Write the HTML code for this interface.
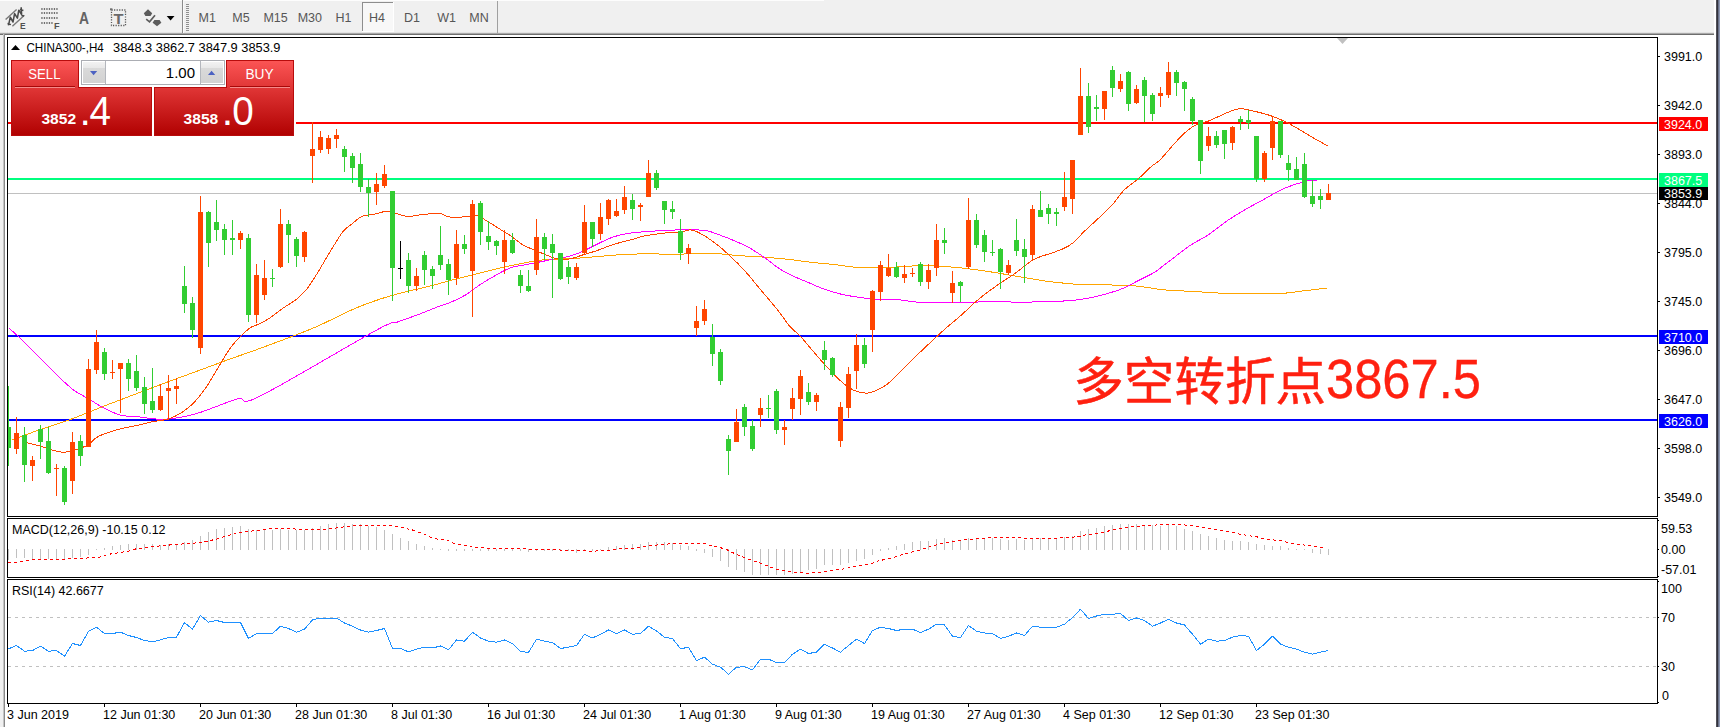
<!DOCTYPE html>
<html><head><meta charset="utf-8"><title>CHINA300-,H4</title>
<style>
html,body{margin:0;padding:0;background:#fff;}
body{width:1720px;height:727px;overflow:hidden;position:relative;font-family:"Liberation Sans",sans-serif;}
svg{position:absolute;left:0;top:0;display:block}
svg text{font-family:"Liberation Sans",sans-serif;font-size:12.5px;fill:#000}
.cj{font-family:"Liberation Sans","Noto Sans CJK SC",sans-serif}
.crisp{shape-rendering:crispEdges}
</style></head><body>
<svg width="1720" height="727" viewBox="0 0 1720 727">
<defs>
<linearGradient id="gr" gradientUnits="userSpaceOnUse" x1="0" y1="61" x2="0" y2="136"><stop offset="0" stop-color="#fb5454"/><stop offset="1" stop-color="#b00000"/></linearGradient>
<linearGradient id="gb" x1="0" y1="0" x2="0" y2="1"><stop offset="0" stop-color="#f2f2f2"/><stop offset="0.3" stop-color="#e8e8e8"/><stop offset="0.3" stop-color="#dadada"/><stop offset="1" stop-color="#d2d2d2"/></linearGradient>
<clipPath id="cm"><rect x="8" y="38" width="1649" height="478"/></clipPath>
</defs>
<rect width="1720" height="727" fill="#fff"/>
<g class="crisp">
<rect x="0" y="0" width="1714" height="33" fill="#f0f0f0"/>
<rect x="0" y="32" width="1714" height="1" fill="#e3e3e3"/>
<rect x="0" y="0" width="824" height="1" fill="#fdfdfd"/>
<rect x="0" y="33" width="1714" height="1" fill="#a8a8a8"/>
<rect x="0" y="34" width="1714" height="1" fill="#6e6e6e"/>
<rect x="0" y="35" width="3" height="692" fill="#f0f0f0"/>
<rect x="3" y="34" width="1" height="693" fill="#c4c4c4"/>
<rect x="4" y="34" width="1" height="693" fill="#8a8a8a"/>
<rect x="1716" y="0" width="1" height="727" fill="#50505a"/>
<rect x="1717" y="0" width="1" height="727" fill="#34343c"/>
<rect x="1718" y="0" width="1" height="727" fill="#6a728a"/>
<rect x="1719" y="0" width="1" height="727" fill="#8e98b2"/>
</g>
<rect class="crisp" x="7.5" y="37.5" width="1650" height="479" fill="none" stroke="#000" stroke-width="1"/>
<rect class="crisp" x="7.5" y="518.5" width="1650" height="59" fill="none" stroke="#000" stroke-width="1"/>
<rect class="crisp" x="7.5" y="579.5" width="1650" height="124" fill="none" stroke="#000" stroke-width="1"/>
<g clip-path="url(#cm)">
<g class="crisp">
<rect x="8" y="193" width="1649" height="1" fill="#c0c0c0"/>
<rect x="8" y="122" width="1649" height="2" fill="#ff0000"/>
<rect x="8" y="178" width="1649" height="2" fill="#00ff7f"/>
<rect x="8" y="335" width="1649" height="2" fill="#0000ff"/>
<rect x="8" y="419" width="1649" height="2" fill="#0000ff"/>
</g>
<path class="crisp" d="M12.1,439.8 C16.8,438.1 30.2,433.1 40.3,429.5 C50.3,426.0 61.9,422.6 72.6,418.6 C83.3,414.7 93.8,410.1 104.4,405.9 C115.0,401.8 125.6,397.9 136.2,393.8 C146.8,389.8 157.7,385.7 168.3,381.7 C178.9,377.8 189.5,374.0 199.8,370.2 C210.0,366.4 220.0,362.7 230.0,359.0 C240.1,355.4 246.9,353.3 260.0,348.4 C273.1,343.6 296.7,334.8 308.6,330.0 C320.5,325.3 323.5,323.4 331.3,319.7 C339.2,316.1 347.5,311.7 355.5,308.2 C363.6,304.8 371.7,301.8 379.8,299.2 C387.8,296.5 396.9,294.1 404.0,292.2 C411.0,290.3 416.1,289.4 422.1,288.0 C428.1,286.5 435.3,284.7 440.0,283.4 C444.7,282.2 443.5,282.2 450.3,280.4 C457.0,278.7 470.4,275.3 480.5,272.9 C490.6,270.4 500.7,267.7 510.8,265.6 C520.9,263.5 531.0,261.3 541.1,260.1 C551.2,259.0 561.2,259.3 571.3,258.6 C581.4,258.0 591.5,257.0 601.6,256.2 C611.7,255.5 618.8,254.4 631.9,254.1 C644.9,253.7 670.3,254.2 680.0,254.1 C689.7,254.0 684.5,253.6 690.3,253.5 C696.0,253.4 706.4,253.1 714.5,253.5 C722.6,253.8 730.6,255.0 738.7,255.6 C746.8,256.2 754.8,256.5 762.9,257.1 C771.0,257.7 779.0,258.4 787.1,259.2 C795.2,260.1 803.3,261.4 811.3,262.3 C819.4,263.2 827.5,263.8 835.5,264.7 C843.6,265.6 851.7,267.2 859.8,267.7 C867.8,268.2 874.1,268.1 884.0,267.7 C893.9,267.4 910.9,265.9 919.1,265.6 C927.3,265.3 928.4,265.7 933.3,265.9 C938.2,266.1 942.4,266.3 948.4,266.8 C954.5,267.3 962.6,268.0 969.6,268.9 C976.7,269.8 984.2,270.9 990.8,271.9 C997.4,272.9 1002.9,273.9 1009.0,275.0 C1015.0,276.0 1021.1,277.0 1027.1,278.0 C1033.2,279.0 1039.2,280.1 1045.3,281.0 C1051.3,281.9 1057.4,282.5 1063.4,283.1 C1069.5,283.7 1074.5,284.3 1081.6,284.6 C1088.7,284.9 1097.7,284.8 1105.8,284.9 C1113.9,285.1 1122.9,285.1 1130.0,285.5 C1137.1,286.0 1143.3,286.9 1148.3,287.5 C1153.3,288.2 1155.9,289.0 1160.0,289.5 C1164.0,290.0 1166.0,290.0 1172.6,290.4 C1179.3,290.8 1190.8,291.4 1199.9,291.9 C1209.0,292.4 1217.5,293.2 1227.1,293.4 C1236.7,293.7 1248.3,293.4 1257.4,293.4 C1266.5,293.4 1274.5,293.8 1281.6,293.4 C1288.7,293.1 1294.2,292.0 1299.8,291.3 C1305.3,290.7 1310.3,290.1 1314.9,289.5 C1319.5,288.9 1325.5,288.2 1327.6,288.0" fill="none" stroke="#ffa500" stroke-width="1" stroke-linejoin="round"/>
<path class="crisp" d="M8.5,327.8 C10.1,329.3 13.5,331.9 18.2,336.3 C22.8,340.8 30.3,348.4 36.3,354.5 C42.4,360.5 48.4,366.8 54.5,372.6 C60.5,378.4 67.1,385.0 72.6,389.3 C78.2,393.6 82.5,395.2 87.8,398.4 C93.1,401.5 98.9,405.5 104.4,408.4 C110.0,411.2 115.8,414.0 121.1,415.3 C126.4,416.7 130.6,415.9 136.2,416.5 C141.7,417.1 149.0,418.5 154.4,418.9 C159.7,419.4 163.2,419.4 168.3,418.9 C173.3,418.5 179.4,417.6 184.6,416.5 C189.9,415.5 194.2,414.4 199.8,412.6 C205.3,410.8 211.4,408.3 217.9,405.9 C224.5,403.6 232.1,400.0 239.1,398.4 C246.1,396.8 237.1,407.6 260.0,396.2 C282.9,384.9 353.7,342.4 376.7,330.0 C399.7,317.6 390.9,324.5 397.9,321.9 C405.0,319.2 412.5,316.8 419.1,314.3 C425.7,311.8 432.4,308.9 437.6,306.9 C442.8,304.9 445.6,304.5 450.3,302.5 C454.9,300.5 460.4,298.0 465.4,295.0 C470.4,291.9 475.5,287.6 480.5,284.4 C485.6,281.1 490.6,278.1 495.7,275.3 C500.7,272.5 505.8,269.5 510.8,267.7 C515.8,265.9 520.9,265.7 525.9,264.7 C531.0,263.7 536.5,262.6 541.1,261.7 C545.6,260.8 549.1,260.0 553.2,259.2 C557.2,258.5 561.2,258.1 565.3,257.1 C569.3,256.2 573.3,255.0 577.4,253.5 C581.4,252.0 585.5,250.0 589.5,248.0 C593.5,246.1 597.6,243.9 601.6,242.0 C605.6,240.1 609.7,238.2 613.7,236.8 C617.7,235.5 621.8,234.6 625.8,233.8 C629.8,233.1 633.9,232.7 637.9,232.3 C642.0,231.9 646.0,231.7 650.0,231.4 C654.1,231.1 656.8,230.7 662.1,230.5 C667.5,230.2 674.9,229.9 682.1,229.9 C689.3,229.9 699.0,229.6 705.4,230.5 C711.8,231.4 715.0,233.3 720.5,235.3 C726.1,237.3 733.6,240.4 738.7,242.6 C743.7,244.8 746.3,246.0 750.8,248.6 C755.3,251.3 760.9,255.1 765.9,258.6 C771.0,262.2 776.0,266.7 781.1,269.8 C786.1,273.0 791.2,275.1 796.2,277.4 C801.2,279.7 806.8,281.8 811.3,283.8 C815.9,285.7 818.4,287.1 823.4,288.9 C828.5,290.7 835.5,292.9 841.6,294.3 C847.7,295.8 853.7,296.5 859.8,297.4 C865.8,298.2 871.9,299.1 877.9,299.5 C884.0,299.8 889.2,299.0 896.1,299.5 C902.9,300.0 912.4,301.8 919.1,302.4 C925.8,302.9 929.4,302.7 936.3,302.8 C943.2,302.9 951.5,303.0 960.5,302.8 C969.6,302.6 980.7,301.7 990.8,301.6 C1000.9,301.5 1012.0,302.2 1021.1,302.2 C1030.1,302.2 1037.2,301.8 1045.3,301.6 C1053.3,301.3 1062.4,301.2 1069.5,300.7 C1076.6,300.1 1081.6,299.4 1087.7,298.3 C1093.7,297.1 1099.8,295.7 1105.8,294.0 C1111.9,292.3 1118.7,290.2 1124.0,288.0 C1129.3,285.8 1132.9,283.3 1137.7,280.9 C1142.5,278.4 1149.1,275.4 1152.8,273.3 C1156.6,271.2 1156.7,270.7 1160.0,268.3 C1163.3,265.8 1167.5,262.5 1172.6,258.6 C1177.8,254.8 1184.7,249.0 1190.8,245.0 C1196.9,241.0 1202.9,238.5 1209.0,234.4 C1215.0,230.4 1221.1,224.9 1227.1,220.8 C1233.2,216.7 1239.2,213.1 1245.3,209.6 C1251.3,206.1 1257.4,202.9 1263.4,199.6 C1269.5,196.3 1276.0,192.2 1281.6,189.6 C1287.1,187.0 1292.2,185.4 1296.7,183.9 C1301.3,182.4 1305.5,181.2 1308.8,180.5 C1312.2,179.9 1315.4,180.2 1316.7,180.1" fill="none" stroke="#ff00ff" stroke-width="1" stroke-linejoin="round"/>
<path class="crisp" d="M27.2,442.9 C29.3,443.4 34.8,444.6 39.3,445.9 C43.9,447.2 50.3,449.7 54.5,450.7 C58.6,451.8 60.6,452.4 64.2,452.2 C67.7,452.1 71.6,451.1 75.7,449.8 C79.7,448.6 84.9,446.7 88.4,444.7 C91.8,442.7 93.6,439.5 96.2,437.7 C98.9,435.9 100.3,435.3 104.4,433.8 C108.6,432.3 115.8,430.0 121.1,428.6 C126.4,427.3 131.2,426.7 136.2,425.6 C141.2,424.5 146.0,423.1 151.3,422.0 C156.7,420.9 163.2,420.5 168.3,418.9 C173.3,417.4 177.4,415.3 181.6,412.6 C185.8,409.9 189.7,407.0 193.7,402.9 C197.7,398.8 201.8,393.6 205.8,387.8 C209.8,382.0 213.9,374.7 217.9,368.1 C222.0,361.5 226.0,354.0 230.0,348.4 C234.1,342.9 238.6,338.3 242.1,334.8 C245.7,331.3 248.2,329.1 251.2,327.2 C254.2,325.4 256.7,325.3 260.0,323.6 C263.3,322.0 267.0,319.9 270.8,317.3 C274.6,314.8 278.6,311.3 282.9,308.2 C287.2,305.2 292.5,302.4 296.5,299.2 C300.6,295.9 303.8,292.6 307.1,288.6 C310.4,284.5 313.2,279.7 316.2,275.0 C319.2,270.2 322.3,264.9 325.3,259.8 C328.3,254.8 331.3,249.5 334.4,244.7 C337.4,239.9 340.4,234.6 343.4,231.1 C346.5,227.5 349.5,225.9 352.5,223.5 C355.5,221.1 358.1,218.1 361.6,216.5 C365.1,215.0 369.7,215.3 373.7,214.4 C377.7,213.6 382.3,211.6 385.8,211.4 C389.3,211.1 391.4,212.0 394.9,212.9 C398.4,213.8 403.0,216.2 407.0,216.5 C411.0,216.9 413.8,215.6 419.1,215.0 C424.5,214.5 434.1,213.1 439.1,213.4 C444.0,213.7 444.4,216.3 448.8,216.9 C453.1,217.4 460.6,217.1 465.4,216.9 C470.2,216.7 474.0,215.0 477.5,215.7 C481.0,216.3 483.1,218.7 486.6,220.8 C490.1,222.9 494.7,225.8 498.7,228.4 C502.7,230.9 506.8,233.2 510.8,235.9 C514.8,238.7 519.1,242.7 522.9,245.0 C526.7,247.3 530.0,248.0 533.5,249.6 C537.0,251.1 540.8,252.7 544.1,254.1 C547.4,255.5 550.1,256.8 553.2,257.7 C556.2,258.6 559.2,259.4 562.3,259.5 C565.3,259.7 567.8,259.4 571.3,258.6 C574.9,257.8 579.4,256.0 583.4,254.7 C587.5,253.4 591.5,252.4 595.5,251.1 C599.6,249.7 603.6,247.9 607.7,246.5 C611.7,245.1 615.7,243.8 619.8,242.6 C623.8,241.4 627.8,240.7 631.9,239.6 C635.9,238.5 639.4,236.9 644.0,235.9 C648.5,235.0 654.6,234.4 659.1,233.8 C663.6,233.2 667.7,232.6 671.2,232.3 C674.7,232.0 676.8,232.7 680.0,232.3 C683.2,231.9 687.0,229.8 690.3,229.9 C693.5,230.0 695.3,230.8 699.3,232.9 C703.4,235.0 709.4,238.8 714.5,242.6 C719.5,246.4 724.6,250.9 729.6,255.6 C734.7,260.3 739.7,265.2 744.7,270.7 C749.8,276.3 754.3,282.3 759.9,288.9 C765.4,295.5 773.0,304.2 778.0,310.5 C783.1,316.8 786.4,322.4 790.1,326.7 C793.9,331.1 796.2,331.7 800.7,336.7 C805.3,341.6 812.1,350.2 817.4,356.3 C822.7,362.3 828.0,368.2 832.5,372.9 C837.1,377.6 841.1,381.5 844.6,384.4 C848.2,387.3 850.2,388.7 853.7,390.2 C857.2,391.6 862.3,393.0 865.8,393.2 C869.3,393.3 871.4,392.5 874.9,391.1 C878.4,389.6 883.0,387.4 887.0,384.4 C891.0,381.4 895.1,376.8 899.1,372.9 C903.1,369.0 907.7,364.2 911.2,360.8 C914.7,357.4 914.5,357.5 920.0,352.3 C925.4,347.2 937.1,336.1 943.9,330.0 C950.6,324.0 954.7,321.0 960.5,315.8 C966.3,310.7 972.6,304.2 978.7,299.2 C984.7,294.1 990.8,289.8 996.9,285.5 C1002.9,281.3 1009.0,277.7 1015.0,273.4 C1021.1,269.2 1027.1,263.2 1033.2,259.8 C1039.2,256.4 1046.3,255.0 1051.3,253.2 C1056.4,251.3 1059.9,250.3 1063.4,248.6 C1067.0,247.0 1069.0,246.1 1072.5,243.2 C1076.0,240.2 1080.6,234.9 1084.6,231.1 C1088.7,227.2 1092.2,224.2 1096.7,219.9 C1101.3,215.6 1107.3,210.3 1111.9,205.3 C1116.4,200.4 1119.4,194.7 1124.0,190.2 C1128.5,185.7 1134.6,182.0 1139.1,178.1 C1143.6,174.2 1147.7,169.6 1151.2,166.6 C1154.7,163.6 1156.0,163.9 1160.0,159.9 C1164.0,156.0 1170.5,147.8 1175.0,142.9 C1179.5,138.0 1183.6,133.8 1187.1,130.8 C1190.6,127.8 1192.7,126.4 1196.2,124.7 C1199.7,123.1 1204.3,122.6 1208.3,121.1 C1212.3,119.6 1216.4,117.4 1220.4,115.7 C1224.4,113.9 1229.0,111.7 1232.5,110.5 C1236.0,109.4 1238.1,108.6 1241.6,108.7 C1245.1,108.8 1249.2,110.1 1253.7,111.1 C1258.2,112.2 1263.8,113.4 1268.8,115.1 C1273.9,116.7 1278.9,118.7 1284.0,121.1 C1289.0,123.5 1294.1,126.4 1299.1,129.3 C1304.1,132.2 1309.4,135.6 1314.2,138.4 C1319.0,141.1 1325.6,144.7 1327.9,145.9" fill="none" stroke="#ff4500" stroke-width="1" stroke-linejoin="round"/>
<g class="crisp">
<rect x="8" y="386" width="1" height="80" fill="#32cd32"/><rect x="6" y="427" width="5" height="21" fill="#32cd32"/>
<rect x="16" y="417" width="1" height="37" fill="#ff4500"/><rect x="14" y="433" width="5" height="16" fill="#ff4500"/>
<rect x="24" y="427" width="1" height="55" fill="#32cd32"/><rect x="22" y="435" width="5" height="30" fill="#32cd32"/>
<rect x="32" y="456" width="1" height="25" fill="#ff4500"/><rect x="30" y="460" width="5" height="6" fill="#ff4500"/>
<rect x="40" y="425" width="1" height="34" fill="#32cd32"/><rect x="38" y="429" width="5" height="13" fill="#32cd32"/>
<rect x="48" y="427" width="1" height="47" fill="#32cd32"/><rect x="46" y="441" width="5" height="32" fill="#32cd32"/>
<rect x="56" y="464" width="1" height="32" fill="#ff4500"/><rect x="54" y="468" width="5" height="1" fill="#ff4500"/>
<rect x="64" y="466" width="1" height="39" fill="#32cd32"/><rect x="62" y="468" width="5" height="34" fill="#32cd32"/>
<rect x="72" y="432" width="1" height="62" fill="#ff4500"/><rect x="70" y="442" width="5" height="39" fill="#ff4500"/>
<rect x="80" y="435" width="1" height="31" fill="#32cd32"/><rect x="78" y="441" width="5" height="15" fill="#32cd32"/>
<rect x="88" y="359" width="1" height="88" fill="#ff4500"/><rect x="86" y="369" width="5" height="78" fill="#ff4500"/>
<rect x="96" y="330" width="1" height="44" fill="#ff4500"/><rect x="94" y="342" width="5" height="28" fill="#ff4500"/>
<rect x="104" y="348" width="1" height="32" fill="#32cd32"/><rect x="102" y="352" width="5" height="22" fill="#32cd32"/>
<rect x="112" y="360" width="1" height="19" fill="#ff4500"/><rect x="110" y="372" width="5" height="1" fill="#ff4500"/>
<rect x="120" y="363" width="1" height="50" fill="#ff4500"/><rect x="118" y="363" width="5" height="6" fill="#ff4500"/>
<rect x="128" y="359" width="1" height="32" fill="#32cd32"/><rect x="126" y="363" width="5" height="16" fill="#32cd32"/>
<rect x="136" y="355" width="1" height="36" fill="#32cd32"/><rect x="134" y="371" width="5" height="17" fill="#32cd32"/>
<rect x="144" y="377" width="1" height="37" fill="#32cd32"/><rect x="142" y="387" width="5" height="17" fill="#32cd32"/>
<rect x="152" y="368" width="1" height="45" fill="#32cd32"/><rect x="150" y="401" width="5" height="9" fill="#32cd32"/>
<rect x="160" y="384" width="1" height="27" fill="#ff4500"/><rect x="158" y="396" width="5" height="14" fill="#ff4500"/>
<rect x="168" y="375" width="1" height="45" fill="#ff4500"/><rect x="166" y="388" width="5" height="3" fill="#ff4500"/>
<rect x="176" y="378" width="1" height="26" fill="#ff4500"/><rect x="174" y="386" width="5" height="3" fill="#ff4500"/>
<rect x="184" y="266" width="1" height="47" fill="#32cd32"/><rect x="182" y="286" width="5" height="18" fill="#32cd32"/>
<rect x="192" y="297" width="1" height="41" fill="#32cd32"/><rect x="190" y="303" width="5" height="27" fill="#32cd32"/>
<rect x="200" y="196" width="1" height="158" fill="#ff4500"/><rect x="198" y="212" width="5" height="136" fill="#ff4500"/>
<rect x="208" y="211" width="1" height="56" fill="#32cd32"/><rect x="206" y="212" width="5" height="31" fill="#32cd32"/>
<rect x="216" y="200" width="1" height="41" fill="#32cd32"/><rect x="214" y="222" width="5" height="8" fill="#32cd32"/>
<rect x="224" y="224" width="1" height="31" fill="#32cd32"/><rect x="222" y="229" width="5" height="11" fill="#32cd32"/>
<rect x="232" y="220" width="1" height="35" fill="#32cd32"/><rect x="230" y="238" width="5" height="2" fill="#32cd32"/>
<rect x="240" y="231" width="1" height="18" fill="#ff4500"/><rect x="238" y="233" width="5" height="7" fill="#ff4500"/>
<rect x="248" y="234" width="1" height="88" fill="#32cd32"/><rect x="246" y="238" width="5" height="77" fill="#32cd32"/>
<rect x="256" y="264" width="1" height="59" fill="#ff4500"/><rect x="254" y="275" width="5" height="40" fill="#ff4500"/>
<rect x="264" y="260" width="1" height="40" fill="#ff4500"/><rect x="262" y="278" width="5" height="17" fill="#ff4500"/>
<rect x="272" y="269" width="1" height="18" fill="#32cd32"/><rect x="270" y="278" width="5" height="1" fill="#32cd32"/>
<rect x="280" y="209" width="1" height="59" fill="#ff4500"/><rect x="278" y="224" width="5" height="43" fill="#ff4500"/>
<rect x="288" y="220" width="1" height="43" fill="#32cd32"/><rect x="286" y="224" width="5" height="11" fill="#32cd32"/>
<rect x="296" y="237" width="1" height="30" fill="#32cd32"/><rect x="294" y="239" width="5" height="17" fill="#32cd32"/>
<rect x="304" y="231" width="1" height="31" fill="#ff4500"/><rect x="302" y="232" width="5" height="25" fill="#ff4500"/>
<rect x="312" y="122" width="1" height="61" fill="#ff4500"/><rect x="310" y="149" width="5" height="7" fill="#ff4500"/>
<rect x="320" y="131" width="1" height="22" fill="#ff4500"/><rect x="318" y="137" width="5" height="13" fill="#ff4500"/>
<rect x="328" y="135" width="1" height="19" fill="#ff4500"/><rect x="326" y="138" width="5" height="11" fill="#ff4500"/>
<rect x="336" y="129" width="1" height="19" fill="#ff4500"/><rect x="334" y="135" width="5" height="4" fill="#ff4500"/>
<rect x="344" y="146" width="1" height="26" fill="#32cd32"/><rect x="342" y="149" width="5" height="8" fill="#32cd32"/>
<rect x="352" y="153" width="1" height="30" fill="#32cd32"/><rect x="350" y="156" width="5" height="12" fill="#32cd32"/>
<rect x="360" y="153" width="1" height="39" fill="#32cd32"/><rect x="358" y="164" width="5" height="23" fill="#32cd32"/>
<rect x="368" y="179" width="1" height="38" fill="#32cd32"/><rect x="366" y="187" width="5" height="6" fill="#32cd32"/>
<rect x="376" y="173" width="1" height="32" fill="#ff4500"/><rect x="374" y="184" width="5" height="8" fill="#ff4500"/>
<rect x="384" y="165" width="1" height="23" fill="#ff4500"/><rect x="382" y="174" width="5" height="12" fill="#ff4500"/>
<rect x="392" y="191" width="1" height="110" fill="#32cd32"/><rect x="390" y="191" width="5" height="77" fill="#32cd32"/>
<rect x="400" y="241" width="1" height="38" fill="#000000"/><rect x="398" y="268" width="5" height="1" fill="#000000"/>
<rect x="408" y="253" width="1" height="40" fill="#32cd32"/><rect x="406" y="260" width="5" height="26" fill="#32cd32"/>
<rect x="416" y="268" width="1" height="23" fill="#ff4500"/><rect x="414" y="276" width="5" height="10" fill="#ff4500"/>
<rect x="424" y="251" width="1" height="34" fill="#32cd32"/><rect x="422" y="255" width="5" height="15" fill="#32cd32"/>
<rect x="432" y="266" width="1" height="23" fill="#32cd32"/><rect x="430" y="269" width="5" height="7" fill="#32cd32"/>
<rect x="440" y="226" width="1" height="44" fill="#32cd32"/><rect x="438" y="255" width="5" height="10" fill="#32cd32"/>
<rect x="448" y="259" width="1" height="36" fill="#32cd32"/><rect x="446" y="264" width="5" height="16" fill="#32cd32"/>
<rect x="456" y="230" width="1" height="55" fill="#ff4500"/><rect x="454" y="244" width="5" height="34" fill="#ff4500"/>
<rect x="464" y="235" width="1" height="19" fill="#32cd32"/><rect x="462" y="244" width="5" height="5" fill="#32cd32"/>
<rect x="472" y="200" width="1" height="117" fill="#ff4500"/><rect x="470" y="204" width="5" height="67" fill="#ff4500"/>
<rect x="480" y="201" width="1" height="44" fill="#32cd32"/><rect x="478" y="203" width="5" height="29" fill="#32cd32"/>
<rect x="488" y="221" width="1" height="29" fill="#32cd32"/><rect x="486" y="236" width="5" height="6" fill="#32cd32"/>
<rect x="496" y="240" width="1" height="15" fill="#32cd32"/><rect x="494" y="241" width="5" height="5" fill="#32cd32"/>
<rect x="504" y="230" width="1" height="44" fill="#ff4500"/><rect x="502" y="240" width="5" height="22" fill="#ff4500"/>
<rect x="512" y="233" width="1" height="21" fill="#32cd32"/><rect x="510" y="240" width="5" height="13" fill="#32cd32"/>
<rect x="520" y="270" width="1" height="23" fill="#32cd32"/><rect x="518" y="275" width="5" height="11" fill="#32cd32"/>
<rect x="528" y="270" width="1" height="22" fill="#32cd32"/><rect x="526" y="286" width="5" height="5" fill="#32cd32"/>
<rect x="536" y="219" width="1" height="56" fill="#ff4500"/><rect x="534" y="237" width="5" height="33" fill="#ff4500"/>
<rect x="544" y="233" width="1" height="27" fill="#32cd32"/><rect x="542" y="237" width="5" height="12" fill="#32cd32"/>
<rect x="552" y="234" width="1" height="64" fill="#32cd32"/><rect x="550" y="244" width="5" height="9" fill="#32cd32"/>
<rect x="560" y="253" width="1" height="27" fill="#32cd32"/><rect x="558" y="253" width="5" height="26" fill="#32cd32"/>
<rect x="568" y="261" width="1" height="23" fill="#32cd32"/><rect x="566" y="267" width="5" height="10" fill="#32cd32"/>
<rect x="576" y="263" width="1" height="17" fill="#ff4500"/><rect x="574" y="267" width="5" height="11" fill="#ff4500"/>
<rect x="584" y="205" width="1" height="49" fill="#ff4500"/><rect x="582" y="222" width="5" height="31" fill="#ff4500"/>
<rect x="592" y="222" width="1" height="25" fill="#32cd32"/><rect x="590" y="222" width="5" height="17" fill="#32cd32"/>
<rect x="600" y="203" width="1" height="37" fill="#ff4500"/><rect x="598" y="217" width="5" height="17" fill="#ff4500"/>
<rect x="608" y="199" width="1" height="26" fill="#ff4500"/><rect x="606" y="200" width="5" height="19" fill="#ff4500"/>
<rect x="616" y="199" width="1" height="18" fill="#ff4500"/><rect x="614" y="211" width="5" height="5" fill="#ff4500"/>
<rect x="624" y="186" width="1" height="28" fill="#ff4500"/><rect x="622" y="197" width="5" height="13" fill="#ff4500"/>
<rect x="632" y="194" width="1" height="26" fill="#32cd32"/><rect x="630" y="200" width="5" height="9" fill="#32cd32"/>
<rect x="640" y="203" width="1" height="18" fill="#ff4500"/><rect x="638" y="205" width="5" height="2" fill="#ff4500"/>
<rect x="648" y="160" width="1" height="37" fill="#ff4500"/><rect x="646" y="173" width="5" height="24" fill="#ff4500"/>
<rect x="656" y="170" width="1" height="20" fill="#32cd32"/><rect x="654" y="173" width="5" height="15" fill="#32cd32"/>
<rect x="664" y="201" width="1" height="23" fill="#32cd32"/><rect x="662" y="201" width="5" height="9" fill="#32cd32"/>
<rect x="672" y="201" width="1" height="18" fill="#32cd32"/><rect x="670" y="209" width="5" height="3" fill="#32cd32"/>
<rect x="680" y="219" width="1" height="41" fill="#32cd32"/><rect x="678" y="231" width="5" height="22" fill="#32cd32"/>
<rect x="688" y="244" width="1" height="20" fill="#ff4500"/><rect x="686" y="248" width="5" height="6" fill="#ff4500"/>
<rect x="696" y="306" width="1" height="30" fill="#ff4500"/><rect x="694" y="321" width="5" height="7" fill="#ff4500"/>
<rect x="704" y="300" width="1" height="25" fill="#ff4500"/><rect x="702" y="309" width="5" height="12" fill="#ff4500"/>
<rect x="712" y="324" width="1" height="42" fill="#32cd32"/><rect x="710" y="337" width="5" height="17" fill="#32cd32"/>
<rect x="720" y="349" width="1" height="36" fill="#32cd32"/><rect x="718" y="352" width="5" height="29" fill="#32cd32"/>
<rect x="728" y="435" width="1" height="40" fill="#32cd32"/><rect x="726" y="439" width="5" height="12" fill="#32cd32"/>
<rect x="736" y="409" width="1" height="33" fill="#ff4500"/><rect x="734" y="422" width="5" height="20" fill="#ff4500"/>
<rect x="744" y="404" width="1" height="32" fill="#32cd32"/><rect x="742" y="407" width="5" height="20" fill="#32cd32"/>
<rect x="752" y="420" width="1" height="31" fill="#32cd32"/><rect x="750" y="426" width="5" height="23" fill="#32cd32"/>
<rect x="760" y="398" width="1" height="29" fill="#ff4500"/><rect x="758" y="408" width="5" height="7" fill="#ff4500"/>
<rect x="768" y="395" width="1" height="23" fill="#32cd32"/><rect x="766" y="408" width="5" height="1" fill="#32cd32"/>
<rect x="776" y="389" width="1" height="45" fill="#32cd32"/><rect x="774" y="391" width="5" height="39" fill="#32cd32"/>
<rect x="784" y="420" width="1" height="25" fill="#ff4500"/><rect x="782" y="427" width="5" height="3" fill="#ff4500"/>
<rect x="792" y="388" width="1" height="32" fill="#ff4500"/><rect x="790" y="398" width="5" height="11" fill="#ff4500"/>
<rect x="800" y="370" width="1" height="45" fill="#ff4500"/><rect x="798" y="376" width="5" height="23" fill="#ff4500"/>
<rect x="808" y="383" width="1" height="22" fill="#32cd32"/><rect x="806" y="392" width="5" height="10" fill="#32cd32"/>
<rect x="816" y="393" width="1" height="18" fill="#ff4500"/><rect x="814" y="395" width="5" height="7" fill="#ff4500"/>
<rect x="824" y="341" width="1" height="29" fill="#32cd32"/><rect x="822" y="350" width="5" height="10" fill="#32cd32"/>
<rect x="832" y="357" width="1" height="20" fill="#32cd32"/><rect x="830" y="358" width="5" height="17" fill="#32cd32"/>
<rect x="840" y="402" width="1" height="45" fill="#ff4500"/><rect x="838" y="407" width="5" height="34" fill="#ff4500"/>
<rect x="848" y="367" width="1" height="51" fill="#ff4500"/><rect x="846" y="374" width="5" height="34" fill="#ff4500"/>
<rect x="856" y="334" width="1" height="55" fill="#ff4500"/><rect x="854" y="345" width="5" height="26" fill="#ff4500"/>
<rect x="864" y="338" width="1" height="30" fill="#32cd32"/><rect x="862" y="345" width="5" height="19" fill="#32cd32"/>
<rect x="872" y="290" width="1" height="62" fill="#ff4500"/><rect x="870" y="291" width="5" height="39" fill="#ff4500"/>
<rect x="880" y="261" width="1" height="40" fill="#ff4500"/><rect x="878" y="265" width="5" height="27" fill="#ff4500"/>
<rect x="888" y="254" width="1" height="23" fill="#ff4500"/><rect x="886" y="268" width="5" height="8" fill="#ff4500"/>
<rect x="896" y="262" width="1" height="16" fill="#32cd32"/><rect x="894" y="267" width="5" height="10" fill="#32cd32"/>
<rect x="904" y="265" width="1" height="18" fill="#ff4500"/><rect x="902" y="274" width="5" height="4" fill="#ff4500"/>
<rect x="912" y="268" width="1" height="9" fill="#ff4500"/><rect x="910" y="273" width="5" height="1" fill="#ff4500"/>
<rect x="920" y="262" width="1" height="24" fill="#32cd32"/><rect x="918" y="264" width="5" height="18" fill="#32cd32"/>
<rect x="928" y="264" width="1" height="25" fill="#ff4500"/><rect x="926" y="270" width="5" height="12" fill="#ff4500"/>
<rect x="936" y="224" width="1" height="52" fill="#ff4500"/><rect x="934" y="240" width="5" height="28" fill="#ff4500"/>
<rect x="944" y="228" width="1" height="26" fill="#32cd32"/><rect x="942" y="240" width="5" height="3" fill="#32cd32"/>
<rect x="952" y="271" width="1" height="32" fill="#ff4500"/><rect x="950" y="283" width="5" height="10" fill="#ff4500"/>
<rect x="960" y="281" width="1" height="21" fill="#32cd32"/><rect x="958" y="282" width="5" height="4" fill="#32cd32"/>
<rect x="968" y="198" width="1" height="71" fill="#ff4500"/><rect x="966" y="220" width="5" height="47" fill="#ff4500"/>
<rect x="976" y="214" width="1" height="34" fill="#32cd32"/><rect x="974" y="220" width="5" height="25" fill="#32cd32"/>
<rect x="984" y="230" width="1" height="32" fill="#32cd32"/><rect x="982" y="235" width="5" height="17" fill="#32cd32"/>
<rect x="992" y="240" width="1" height="16" fill="#32cd32"/><rect x="990" y="252" width="5" height="1" fill="#32cd32"/>
<rect x="1000" y="248" width="1" height="41" fill="#32cd32"/><rect x="998" y="249" width="5" height="23" fill="#32cd32"/>
<rect x="1008" y="260" width="1" height="15" fill="#ff4500"/><rect x="1006" y="265" width="5" height="8" fill="#ff4500"/>
<rect x="1016" y="219" width="1" height="37" fill="#32cd32"/><rect x="1014" y="240" width="5" height="11" fill="#32cd32"/>
<rect x="1024" y="239" width="1" height="44" fill="#32cd32"/><rect x="1022" y="249" width="5" height="8" fill="#32cd32"/>
<rect x="1032" y="205" width="1" height="55" fill="#ff4500"/><rect x="1030" y="209" width="5" height="46" fill="#ff4500"/>
<rect x="1040" y="191" width="1" height="26" fill="#32cd32"/><rect x="1038" y="210" width="5" height="7" fill="#32cd32"/>
<rect x="1048" y="204" width="1" height="20" fill="#32cd32"/><rect x="1046" y="208" width="5" height="6" fill="#32cd32"/>
<rect x="1056" y="208" width="1" height="18" fill="#32cd32"/><rect x="1054" y="212" width="5" height="2" fill="#32cd32"/>
<rect x="1064" y="172" width="1" height="39" fill="#ff4500"/><rect x="1062" y="197" width="5" height="10" fill="#ff4500"/>
<rect x="1072" y="160" width="1" height="54" fill="#ff4500"/><rect x="1070" y="160" width="5" height="39" fill="#ff4500"/>
<rect x="1080" y="68" width="1" height="67" fill="#ff4500"/><rect x="1078" y="96" width="5" height="39" fill="#ff4500"/>
<rect x="1088" y="83" width="1" height="50" fill="#32cd32"/><rect x="1086" y="96" width="5" height="31" fill="#32cd32"/>
<rect x="1096" y="95" width="1" height="26" fill="#32cd32"/><rect x="1094" y="107" width="5" height="2" fill="#32cd32"/>
<rect x="1104" y="91" width="1" height="29" fill="#ff4500"/><rect x="1102" y="91" width="5" height="18" fill="#ff4500"/>
<rect x="1112" y="66" width="1" height="31" fill="#32cd32"/><rect x="1110" y="70" width="5" height="18" fill="#32cd32"/>
<rect x="1120" y="74" width="1" height="18" fill="#ff4500"/><rect x="1118" y="81" width="5" height="8" fill="#ff4500"/>
<rect x="1128" y="71" width="1" height="40" fill="#32cd32"/><rect x="1126" y="72" width="5" height="32" fill="#32cd32"/>
<rect x="1136" y="85" width="1" height="19" fill="#ff4500"/><rect x="1134" y="89" width="5" height="14" fill="#ff4500"/>
<rect x="1144" y="77" width="1" height="45" fill="#32cd32"/><rect x="1142" y="80" width="5" height="16" fill="#32cd32"/>
<rect x="1152" y="93" width="1" height="28" fill="#32cd32"/><rect x="1150" y="95" width="5" height="19" fill="#32cd32"/>
<rect x="1160" y="87" width="1" height="20" fill="#ff4500"/><rect x="1158" y="93" width="5" height="3" fill="#ff4500"/>
<rect x="1168" y="62" width="1" height="36" fill="#ff4500"/><rect x="1166" y="72" width="5" height="23" fill="#ff4500"/>
<rect x="1176" y="70" width="1" height="26" fill="#32cd32"/><rect x="1174" y="72" width="5" height="11" fill="#32cd32"/>
<rect x="1184" y="81" width="1" height="30" fill="#32cd32"/><rect x="1182" y="82" width="5" height="7" fill="#32cd32"/>
<rect x="1192" y="97" width="1" height="28" fill="#32cd32"/><rect x="1190" y="99" width="5" height="22" fill="#32cd32"/>
<rect x="1200" y="120" width="1" height="54" fill="#32cd32"/><rect x="1198" y="120" width="5" height="41" fill="#32cd32"/>
<rect x="1208" y="127" width="1" height="24" fill="#ff4500"/><rect x="1206" y="136" width="5" height="10" fill="#ff4500"/>
<rect x="1216" y="131" width="1" height="17" fill="#32cd32"/><rect x="1214" y="136" width="5" height="9" fill="#32cd32"/>
<rect x="1224" y="130" width="1" height="29" fill="#32cd32"/><rect x="1222" y="130" width="5" height="14" fill="#32cd32"/>
<rect x="1232" y="126" width="1" height="24" fill="#ff4500"/><rect x="1230" y="127" width="5" height="16" fill="#ff4500"/>
<rect x="1240" y="116" width="1" height="14" fill="#32cd32"/><rect x="1238" y="119" width="5" height="3" fill="#32cd32"/>
<rect x="1248" y="110" width="1" height="19" fill="#32cd32"/><rect x="1246" y="120" width="5" height="3" fill="#32cd32"/>
<rect x="1256" y="136" width="1" height="46" fill="#32cd32"/><rect x="1254" y="136" width="5" height="43" fill="#32cd32"/>
<rect x="1264" y="151" width="1" height="31" fill="#ff4500"/><rect x="1262" y="153" width="5" height="26" fill="#ff4500"/>
<rect x="1272" y="116" width="1" height="44" fill="#ff4500"/><rect x="1270" y="121" width="5" height="27" fill="#ff4500"/>
<rect x="1280" y="121" width="1" height="37" fill="#32cd32"/><rect x="1278" y="121" width="5" height="34" fill="#32cd32"/>
<rect x="1288" y="155" width="1" height="26" fill="#32cd32"/><rect x="1286" y="163" width="5" height="7" fill="#32cd32"/>
<rect x="1296" y="157" width="1" height="23" fill="#32cd32"/><rect x="1294" y="169" width="5" height="11" fill="#32cd32"/>
<rect x="1304" y="153" width="1" height="45" fill="#32cd32"/><rect x="1302" y="164" width="5" height="33" fill="#32cd32"/>
<rect x="1312" y="180" width="1" height="27" fill="#32cd32"/><rect x="1310" y="196" width="5" height="8" fill="#32cd32"/>
<rect x="1320" y="189" width="1" height="20" fill="#32cd32"/><rect x="1318" y="196" width="5" height="4" fill="#32cd32"/>
<rect x="1328" y="184" width="1" height="16" fill="#ff4500"/><rect x="1326" y="193" width="5" height="7" fill="#ff4500"/>
</g>
</g>
<polygon points="1337,38 1348,38 1342.5,44" fill="#c0c0c0"/>
<g class="crisp">
<rect x="8" y="549" width="1" height="11" fill="#c0c0c0"/><rect x="16" y="549" width="1" height="9" fill="#c0c0c0"/><rect x="24" y="549" width="1" height="9" fill="#c0c0c0"/><rect x="32" y="549" width="1" height="10" fill="#c0c0c0"/><rect x="40" y="549" width="1" height="10" fill="#c0c0c0"/><rect x="48" y="549" width="1" height="10" fill="#c0c0c0"/><rect x="56" y="549" width="1" height="10" fill="#c0c0c0"/><rect x="64" y="549" width="1" height="10" fill="#c0c0c0"/><rect x="72" y="549" width="1" height="9" fill="#c0c0c0"/><rect x="80" y="549" width="1" height="8" fill="#c0c0c0"/><rect x="88" y="549" width="1" height="6" fill="#c0c0c0"/><rect x="96" y="549" width="1" height="1" fill="#c0c0c0"/><rect x="104" y="548" width="1" height="2" fill="#c0c0c0"/><rect x="112" y="546" width="1" height="4" fill="#c0c0c0"/><rect x="120" y="545" width="1" height="5" fill="#c0c0c0"/><rect x="128" y="544" width="1" height="6" fill="#c0c0c0"/><rect x="136" y="544" width="1" height="6" fill="#c0c0c0"/><rect x="144" y="544" width="1" height="6" fill="#c0c0c0"/><rect x="152" y="544" width="1" height="6" fill="#c0c0c0"/><rect x="160" y="545" width="1" height="5" fill="#c0c0c0"/><rect x="168" y="544" width="1" height="6" fill="#c0c0c0"/><rect x="176" y="544" width="1" height="6" fill="#c0c0c0"/><rect x="184" y="542" width="1" height="8" fill="#c0c0c0"/><rect x="192" y="540" width="1" height="10" fill="#c0c0c0"/><rect x="200" y="536" width="1" height="14" fill="#c0c0c0"/><rect x="208" y="532" width="1" height="18" fill="#c0c0c0"/><rect x="216" y="529" width="1" height="21" fill="#c0c0c0"/><rect x="224" y="528" width="1" height="22" fill="#c0c0c0"/><rect x="232" y="527" width="1" height="23" fill="#c0c0c0"/><rect x="240" y="526" width="1" height="24" fill="#c0c0c0"/><rect x="248" y="529" width="1" height="21" fill="#c0c0c0"/><rect x="256" y="530" width="1" height="20" fill="#c0c0c0"/><rect x="264" y="530" width="1" height="20" fill="#c0c0c0"/><rect x="272" y="530" width="1" height="20" fill="#c0c0c0"/><rect x="280" y="529" width="1" height="21" fill="#c0c0c0"/><rect x="288" y="530" width="1" height="20" fill="#c0c0c0"/><rect x="296" y="530" width="1" height="20" fill="#c0c0c0"/><rect x="304" y="530" width="1" height="20" fill="#c0c0c0"/><rect x="312" y="528" width="1" height="22" fill="#c0c0c0"/><rect x="320" y="526" width="1" height="24" fill="#c0c0c0"/><rect x="328" y="524" width="1" height="26" fill="#c0c0c0"/><rect x="336" y="523" width="1" height="27" fill="#c0c0c0"/><rect x="344" y="523" width="1" height="27" fill="#c0c0c0"/><rect x="352" y="524" width="1" height="26" fill="#c0c0c0"/><rect x="360" y="524" width="1" height="26" fill="#c0c0c0"/><rect x="368" y="526" width="1" height="24" fill="#c0c0c0"/><rect x="376" y="527" width="1" height="23" fill="#c0c0c0"/><rect x="384" y="530" width="1" height="20" fill="#c0c0c0"/><rect x="392" y="534" width="1" height="16" fill="#c0c0c0"/><rect x="400" y="538" width="1" height="12" fill="#c0c0c0"/><rect x="408" y="541" width="1" height="9" fill="#c0c0c0"/><rect x="416" y="544" width="1" height="6" fill="#c0c0c0"/><rect x="424" y="546" width="1" height="4" fill="#c0c0c0"/><rect x="432" y="548" width="1" height="2" fill="#c0c0c0"/><rect x="440" y="549" width="1" height="1" fill="#c0c0c0"/><rect x="448" y="549" width="1" height="2" fill="#c0c0c0"/><rect x="456" y="549" width="1" height="2" fill="#c0c0c0"/><rect x="464" y="549" width="1" height="2" fill="#c0c0c0"/><rect x="472" y="549" width="1" height="2" fill="#c0c0c0"/><rect x="480" y="549" width="1" height="2" fill="#c0c0c0"/><rect x="488" y="549" width="1" height="2" fill="#c0c0c0"/><rect x="496" y="549" width="1" height="2" fill="#c0c0c0"/><rect x="504" y="549" width="1" height="2" fill="#c0c0c0"/><rect x="512" y="549" width="1" height="2" fill="#c0c0c0"/><rect x="520" y="549" width="1" height="2" fill="#c0c0c0"/><rect x="528" y="549" width="1" height="3" fill="#c0c0c0"/><rect x="536" y="549" width="1" height="2" fill="#c0c0c0"/><rect x="544" y="549" width="1" height="2" fill="#c0c0c0"/><rect x="552" y="549" width="1" height="2" fill="#c0c0c0"/><rect x="560" y="549" width="1" height="2" fill="#c0c0c0"/><rect x="568" y="549" width="1" height="2" fill="#c0c0c0"/><rect x="576" y="549" width="1" height="4" fill="#c0c0c0"/><rect x="584" y="549" width="1" height="2" fill="#c0c0c0"/><rect x="592" y="549" width="1" height="2" fill="#c0c0c0"/><rect x="600" y="549" width="1" height="1" fill="#c0c0c0"/><rect x="608" y="547" width="1" height="3" fill="#c0c0c0"/><rect x="616" y="546" width="1" height="4" fill="#c0c0c0"/><rect x="624" y="545" width="1" height="5" fill="#c0c0c0"/><rect x="632" y="544" width="1" height="6" fill="#c0c0c0"/><rect x="640" y="544" width="1" height="6" fill="#c0c0c0"/><rect x="648" y="542" width="1" height="8" fill="#c0c0c0"/><rect x="656" y="542" width="1" height="8" fill="#c0c0c0"/><rect x="664" y="542" width="1" height="8" fill="#c0c0c0"/><rect x="672" y="543" width="1" height="7" fill="#c0c0c0"/><rect x="680" y="545" width="1" height="5" fill="#c0c0c0"/><rect x="688" y="546" width="1" height="4" fill="#c0c0c0"/><rect x="696" y="549" width="1" height="2" fill="#c0c0c0"/><rect x="704" y="549" width="1" height="4" fill="#c0c0c0"/><rect x="712" y="549" width="1" height="8" fill="#c0c0c0"/><rect x="720" y="549" width="1" height="12" fill="#c0c0c0"/><rect x="728" y="549" width="1" height="18" fill="#c0c0c0"/><rect x="736" y="549" width="1" height="21" fill="#c0c0c0"/><rect x="744" y="549" width="1" height="23" fill="#c0c0c0"/><rect x="752" y="549" width="1" height="26" fill="#c0c0c0"/><rect x="760" y="549" width="1" height="26" fill="#c0c0c0"/><rect x="768" y="549" width="1" height="26" fill="#c0c0c0"/><rect x="776" y="549" width="1" height="26" fill="#c0c0c0"/><rect x="784" y="549" width="1" height="26" fill="#c0c0c0"/><rect x="792" y="549" width="1" height="25" fill="#c0c0c0"/><rect x="800" y="549" width="1" height="23" fill="#c0c0c0"/><rect x="808" y="549" width="1" height="21" fill="#c0c0c0"/><rect x="816" y="549" width="1" height="20" fill="#c0c0c0"/><rect x="824" y="549" width="1" height="16" fill="#c0c0c0"/><rect x="832" y="549" width="1" height="16" fill="#c0c0c0"/><rect x="840" y="549" width="1" height="16" fill="#c0c0c0"/><rect x="848" y="549" width="1" height="14" fill="#c0c0c0"/><rect x="856" y="549" width="1" height="12" fill="#c0c0c0"/><rect x="864" y="549" width="1" height="10" fill="#c0c0c0"/><rect x="872" y="549" width="1" height="6" fill="#c0c0c0"/><rect x="880" y="549" width="1" height="2" fill="#c0c0c0"/><rect x="888" y="548" width="1" height="2" fill="#c0c0c0"/><rect x="896" y="546" width="1" height="4" fill="#c0c0c0"/><rect x="904" y="544" width="1" height="6" fill="#c0c0c0"/><rect x="912" y="542" width="1" height="8" fill="#c0c0c0"/><rect x="920" y="541" width="1" height="9" fill="#c0c0c0"/><rect x="928" y="541" width="1" height="9" fill="#c0c0c0"/><rect x="936" y="539" width="1" height="11" fill="#c0c0c0"/><rect x="944" y="538" width="1" height="12" fill="#c0c0c0"/><rect x="952" y="540" width="1" height="10" fill="#c0c0c0"/><rect x="960" y="540" width="1" height="10" fill="#c0c0c0"/><rect x="968" y="538" width="1" height="12" fill="#c0c0c0"/><rect x="976" y="538" width="1" height="12" fill="#c0c0c0"/><rect x="984" y="538" width="1" height="12" fill="#c0c0c0"/><rect x="992" y="538" width="1" height="12" fill="#c0c0c0"/><rect x="1000" y="539" width="1" height="11" fill="#c0c0c0"/><rect x="1008" y="540" width="1" height="10" fill="#c0c0c0"/><rect x="1016" y="539" width="1" height="11" fill="#c0c0c0"/><rect x="1024" y="540" width="1" height="10" fill="#c0c0c0"/><rect x="1032" y="539" width="1" height="11" fill="#c0c0c0"/><rect x="1040" y="538" width="1" height="12" fill="#c0c0c0"/><rect x="1048" y="538" width="1" height="12" fill="#c0c0c0"/><rect x="1056" y="538" width="1" height="12" fill="#c0c0c0"/><rect x="1064" y="537" width="1" height="13" fill="#c0c0c0"/><rect x="1072" y="536" width="1" height="14" fill="#c0c0c0"/><rect x="1080" y="531" width="1" height="19" fill="#c0c0c0"/><rect x="1088" y="529" width="1" height="21" fill="#c0c0c0"/><rect x="1096" y="528" width="1" height="22" fill="#c0c0c0"/><rect x="1104" y="526" width="1" height="24" fill="#c0c0c0"/><rect x="1112" y="525" width="1" height="25" fill="#c0c0c0"/><rect x="1120" y="524" width="1" height="26" fill="#c0c0c0"/><rect x="1128" y="524" width="1" height="26" fill="#c0c0c0"/><rect x="1136" y="524" width="1" height="26" fill="#c0c0c0"/><rect x="1144" y="525" width="1" height="25" fill="#c0c0c0"/><rect x="1152" y="525" width="1" height="25" fill="#c0c0c0"/><rect x="1160" y="526" width="1" height="24" fill="#c0c0c0"/><rect x="1168" y="525" width="1" height="25" fill="#c0c0c0"/><rect x="1176" y="526" width="1" height="24" fill="#c0c0c0"/><rect x="1184" y="529" width="1" height="21" fill="#c0c0c0"/><rect x="1192" y="531" width="1" height="19" fill="#c0c0c0"/><rect x="1200" y="534" width="1" height="16" fill="#c0c0c0"/><rect x="1208" y="536" width="1" height="14" fill="#c0c0c0"/><rect x="1216" y="538" width="1" height="12" fill="#c0c0c0"/><rect x="1224" y="540" width="1" height="10" fill="#c0c0c0"/><rect x="1232" y="541" width="1" height="9" fill="#c0c0c0"/><rect x="1240" y="541" width="1" height="9" fill="#c0c0c0"/><rect x="1248" y="542" width="1" height="8" fill="#c0c0c0"/><rect x="1256" y="544" width="1" height="6" fill="#c0c0c0"/><rect x="1264" y="545" width="1" height="5" fill="#c0c0c0"/><rect x="1272" y="546" width="1" height="4" fill="#c0c0c0"/><rect x="1280" y="546" width="1" height="4" fill="#c0c0c0"/><rect x="1288" y="548" width="1" height="2" fill="#c0c0c0"/><rect x="1296" y="549" width="1" height="1" fill="#c0c0c0"/><rect x="1304" y="549" width="1" height="1" fill="#c0c0c0"/><rect x="1312" y="549" width="1" height="4" fill="#c0c0c0"/><rect x="1320" y="549" width="1" height="5" fill="#c0c0c0"/><rect x="1328" y="549" width="1" height="6" fill="#c0c0c0"/>
</g>
<polyline class="crisp" points="8.2,563.0 25.0,561.2 32.5,560.0 62.5,559.2 87.5,558.0 100.0,557.0 107.5,554.5 120.0,552.5 130.0,550.8 136.2,548.8 150.0,546.8 175.0,544.5 195.0,543.0 207.5,541.2 217.5,538.8 230.0,535.0 242.5,532.0 257.5,530.5 272.5,528.2 300.0,529.2 325.0,529.2 336.2,528.0 345.0,526.8 355.0,525.5 387.5,525.5 400.0,527.0 412.5,530.0 425.0,534.5 430.0,537.0 437.5,539.2 447.5,540.5 455.0,543.8 467.5,545.5 473.8,547.5 492.5,548.2 522.5,548.2 530.0,549.5 557.5,549.5 562.5,550.5 582.5,550.8 590.0,551.2 610.0,550.5 620.0,548.8 637.5,548.0 647.5,546.2 657.5,545.0 670.0,543.8 705.0,543.8 712.5,546.2 720.0,547.5 727.5,550.0 735.0,553.8 745.0,558.0 755.0,561.2 765.0,565.0 775.0,568.8 785.0,570.8 795.0,572.5 807.5,573.2 820.0,572.5 832.5,570.5 845.0,568.8 855.0,566.2 860.0,565.5 870.0,564.2 877.5,561.2 895.0,557.0 905.0,553.8 920.0,550.0 930.0,546.8 945.0,542.5 960.0,540.5 970.0,539.2 985.0,538.2 992.5,537.5 1017.5,537.5 1025.0,538.2 1055.0,538.2 1065.0,537.5 1077.5,536.8 1085.0,535.0 1097.5,533.8 1107.5,531.2 1117.5,529.2 1130.0,527.0 1142.5,525.8 1152.5,525.5 1160.0,524.5 1180.0,524.5 1192.5,525.8 1200.0,527.0 1215.0,529.2 1230.0,532.0 1232.5,532.5 1240.0,534.2 1257.5,537.0 1265.0,539.2 1282.5,540.8 1290.0,543.2 1312.5,546.2 1325.0,548.2" fill="none" stroke="#ff0000" stroke-width="1" stroke-dasharray="3 3"/>
<g class="crisp">
<line x1="8" y1="617.5" x2="1657" y2="617.5" stroke="#c0c0c0" stroke-width="1" stroke-dasharray="3 4"/>
<line x1="8" y1="666.5" x2="1657" y2="666.5" stroke="#c0c0c0" stroke-width="1" stroke-dasharray="3 4"/>
</g>
<polyline class="crisp" points="8.5,648.8 16.5,645.5 24.5,651.2 32.5,650.5 40.5,646.2 48.5,651.2 56.5,650.5 64.5,656.2 72.5,643.5 80.5,645.5 88.5,631.2 96.5,627.2 104.5,633.5 112.5,633.5 120.5,632.2 128.5,635.5 136.5,637.5 144.5,640.5 152.5,641.8 160.5,639.8 168.5,637.5 176.5,637.2 184.5,622.5 192.5,629.2 200.5,615.5 208.5,622.2 216.5,620.5 224.5,622.5 232.5,622.5 240.5,622.5 248.5,638.5 256.5,633.5 264.5,633.5 272.5,633.5 280.5,626.2 288.5,628.5 296.5,632.2 304.5,629.2 312.5,619.8 320.5,618.0 328.5,618.0 336.5,618.0 344.5,623.0 352.5,626.2 360.5,630.0 368.5,632.2 376.5,630.5 384.5,628.5 392.5,648.5 400.5,648.5 408.5,651.8 416.5,649.2 424.5,647.2 432.5,648.0 440.5,646.0 448.5,649.8 456.5,640.0 464.5,641.2 472.5,632.2 480.5,638.0 488.5,641.2 496.5,642.2 504.5,640.0 512.5,643.8 520.5,651.2 528.5,652.5 536.5,639.2 544.5,641.2 552.5,642.5 560.5,648.5 568.5,647.2 576.5,645.5 584.5,634.2 592.5,638.0 600.5,634.2 608.5,630.0 616.5,633.5 624.5,630.0 632.5,634.2 640.5,633.5 648.5,626.2 656.5,631.0 664.5,637.2 672.5,638.5 680.5,648.8 688.5,647.2 696.5,660.5 704.5,657.2 712.5,664.2 720.5,667.2 728.5,674.2 736.5,667.2 744.5,666.8 752.5,669.8 760.5,659.2 768.5,659.2 776.5,662.5 784.5,662.5 792.5,654.2 800.5,649.2 808.5,653.5 816.5,652.2 824.5,644.2 832.5,648.0 840.5,652.2 848.5,645.5 856.5,639.2 864.5,643.5 872.5,630.5 880.5,627.2 888.5,628.5 896.5,630.5 904.5,629.2 912.5,629.2 920.5,632.5 928.5,629.2 936.5,624.2 944.5,625.0 952.5,636.2 960.5,637.5 968.5,625.5 976.5,631.2 984.5,633.0 992.5,633.5 1000.5,638.5 1008.5,636.2 1016.5,633.0 1024.5,635.5 1032.5,626.2 1040.5,627.2 1048.5,627.2 1056.5,627.2 1064.5,624.2 1072.5,617.5 1080.5,609.2 1088.5,618.5 1096.5,616.0 1104.5,614.2 1112.5,614.2 1120.5,613.5 1128.5,620.5 1136.5,618.0 1144.5,620.5 1152.5,626.2 1160.5,623.0 1168.5,619.2 1176.5,623.0 1184.5,625.0 1192.5,634.2 1200.5,644.2 1208.5,639.2 1216.5,641.2 1224.5,640.5 1232.5,637.2 1240.5,635.5 1248.5,636.2 1256.5,650.5 1264.5,644.2 1272.5,636.2 1280.5,644.2 1288.5,647.2 1296.5,649.2 1304.5,652.2 1312.5,654.2 1320.5,652.2 1328.5,650.5" fill="none" stroke="#1e90ff" stroke-width="1" stroke-linejoin="round"/>
<g class="crisp">
<rect x="1658" y="56" width="2" height="1" fill="#000"/><rect x="1658" y="105" width="2" height="1" fill="#000"/><rect x="1658" y="154" width="2" height="1" fill="#000"/><rect x="1658" y="203" width="2" height="1" fill="#000"/><rect x="1658" y="252" width="2" height="1" fill="#000"/><rect x="1658" y="301" width="2" height="1" fill="#000"/><rect x="1658" y="350" width="2" height="1" fill="#000"/><rect x="1658" y="399" width="2" height="1" fill="#000"/><rect x="1658" y="448" width="2" height="1" fill="#000"/><rect x="1658" y="497" width="2" height="1" fill="#000"/><rect x="1658" y="520" width="1" height="1" fill="#000"/><rect x="1658" y="549" width="1" height="1" fill="#000"/><rect x="1658" y="576" width="1" height="1" fill="#000"/><rect x="1658" y="581" width="1" height="1" fill="#000"/><rect x="1658" y="617" width="1" height="1" fill="#000"/><rect x="1658" y="666" width="1" height="1" fill="#000"/><rect x="1658" y="702" width="1" height="1" fill="#000"/><rect x="8" y="704" width="1" height="3" fill="#000"/><rect x="104" y="704" width="1" height="3" fill="#000"/><rect x="200" y="704" width="1" height="3" fill="#000"/><rect x="296" y="704" width="1" height="3" fill="#000"/><rect x="392" y="704" width="1" height="3" fill="#000"/><rect x="488" y="704" width="1" height="3" fill="#000"/><rect x="584" y="704" width="1" height="3" fill="#000"/><rect x="680" y="704" width="1" height="3" fill="#000"/><rect x="776" y="704" width="1" height="3" fill="#000"/><rect x="872" y="704" width="1" height="3" fill="#000"/><rect x="968" y="704" width="1" height="3" fill="#000"/><rect x="1064" y="704" width="1" height="3" fill="#000"/><rect x="1160" y="704" width="1" height="3" fill="#000"/><rect x="1256" y="704" width="1" height="3" fill="#000"/>
<rect x="1659" y="117" width="49" height="14" fill="#ff0000"/>
<rect x="1659" y="173" width="49" height="14" fill="#00ff7f"/>
<rect x="1659" y="187" width="49" height="13" fill="#000"/>
<rect x="1659" y="330" width="49" height="14" fill="#0000ff"/>
<rect x="1659" y="414" width="49" height="14" fill="#0000ff"/>
</g>
<text x="1664" y="61">3991.0</text><text x="1664" y="110">3942.0</text><text x="1664" y="159">3893.0</text><text x="1664" y="208">3844.0</text><text x="1664" y="257">3795.0</text><text x="1664" y="306">3745.0</text><text x="1664" y="355">3696.0</text><text x="1664" y="404">3647.0</text><text x="1664" y="453">3598.0</text><text x="1664" y="502">3549.0</text>
<text x="1664" y="129" style="fill:#fff">3924.0</text>
<text x="1664" y="185" style="fill:#fff">3867.5</text>
<text x="1664" y="198" style="fill:#fff">3853.9</text>
<text x="1664" y="342" style="fill:#fff">3710.0</text>
<text x="1664" y="426" style="fill:#fff">3626.0</text>
<text x="1661" y="532.5">59.53</text><text x="1661" y="554">0.00</text><text x="1661" y="574">-57.01</text>
<text x="1661" y="593">100</text><text x="1661" y="622">70</text><text x="1661" y="671">30</text><text x="1662" y="700">0</text>
<text x="7" y="719">3 Jun 2019</text><text x="103" y="719">12 Jun 01:30</text><text x="199" y="719">20 Jun 01:30</text><text x="295" y="719">28 Jun 01:30</text><text x="391" y="719">8 Jul 01:30</text><text x="487" y="719">16 Jul 01:30</text><text x="583" y="719">24 Jul 01:30</text><text x="679" y="719">1 Aug 01:30</text><text x="775" y="719">9 Aug 01:30</text><text x="871" y="719">19 Aug 01:30</text><text x="967" y="719">27 Aug 01:30</text><text x="1063" y="719">4 Sep 01:30</text><text x="1159" y="719">12 Sep 01:30</text><text x="1255" y="719">23 Sep 01:30</text>
<text x="12" y="534">MACD(12,26,9) -10.15 0.12</text>
<text x="12" y="595">RSI(14) 42.6677</text>
<polygon points="11,50 20,50 15.5,45" fill="#000"/>
<text x="26.4" y="51.5" textLength="77.4" lengthAdjust="spacingAndGlyphs">CHINA300-,H4</text>
<text x="113" y="51.5" textLength="167.5" lengthAdjust="spacingAndGlyphs">3848.3 3862.7 3847.9 3853.9</text>
<g id="trade">
<rect class="crisp" x="11" y="60" width="285" height="76" fill="#fff"/>
<path class="crisp" d="M11.5,60.5 H78.5 V87.5 H151.5 V135.5 H11.5 Z" fill="url(#gr)" stroke="#b80c0c" stroke-width="1"/>
<path class="crisp" d="M226.5,60.5 H293.5 V135.5 H154.5 V87.5 H226.5 Z" fill="url(#gr)" stroke="#b80c0c" stroke-width="1"/>
<rect class="crisp" x="15" y="86" width="60" height="1" fill="#a80808"/>
<rect class="crisp" x="15" y="87" width="60" height="1" fill="#f58a8a"/>
<rect class="crisp" x="230" y="86" width="60" height="1" fill="#a80808"/>
<rect class="crisp" x="230" y="87" width="60" height="1" fill="#f58a8a"/>
<rect class="crisp" x="81.5" y="60.5" width="143" height="24" fill="#fff" stroke="#abadb3"/>
<rect class="crisp" x="83" y="62" width="22" height="21" fill="url(#gb)"/>
<rect class="crisp" x="105" y="61" width="1" height="23" fill="#b4b7bd"/>
<rect class="crisp" x="201" y="62" width="22" height="21" fill="url(#gb)"/>
<rect class="crisp" x="200" y="61" width="1" height="23" fill="#b4b7bd"/>
<polygon points="90,71 97.2,71 93.6,75.2" fill="#4c62c2"/>
<polygon points="208,75 215.2,75 211.6,70.8" fill="#4c62c2"/>
<text x="195" y="78" text-anchor="end" style="font-size:15px">1.00</text>
<text x="28.3" y="78.5" textLength="32.2" lengthAdjust="spacingAndGlyphs" style="font-size:14px;fill:#fff">SELL</text>
<text x="245.4" y="78.5" textLength="28.2" lengthAdjust="spacingAndGlyphs" style="font-size:14px;fill:#fff">BUY</text>
<text x="41.4" y="124.3" textLength="34.7" lengthAdjust="spacingAndGlyphs" style="font-size:14px;font-weight:bold;fill:#fff">3852</text>
<text x="79.5" y="124.5" style="font-size:41px;fill:#fff">.</text>
<text x="89.6" y="124.5" textLength="21.5" lengthAdjust="spacingAndGlyphs" style="font-size:41px;fill:#fff">4</text>
<text x="183.6" y="124.3" textLength="34.7" lengthAdjust="spacingAndGlyphs" style="font-size:14px;font-weight:bold;fill:#fff">3858</text>
<text x="221.8" y="124.5" style="font-size:41px;fill:#fff">.</text>
<text x="232.2" y="124.5" textLength="21.5" lengthAdjust="spacingAndGlyphs" style="font-size:41px;fill:#fff">0</text>
</g>
<g id="toolbar">
<g stroke="#787878" stroke-width="1.4" fill="none">
<path d="M5.6,19.6 L16.6,9.4 M12.4,26.2 L24.4,15.2"/>
</g>
<path d="M8.5,25.3 L10.3,17.2 L13,22 L14.6,13.6 L17.4,18.2 L18.8,10.2 L21.6,14.6 L21.2,7.2 M7.5,23.6 L11,24.4 M20,9.4 L23.4,10.4 M21.5,15.6 L24,16" fill="none" stroke="#4a4a4a" stroke-width="1.55" stroke-linejoin="round"/>
<text x="20" y="28.8" textLength="5.6" lengthAdjust="spacingAndGlyphs" style="font-size:9.6px;font-weight:bold;fill:#505050">E</text>
<g stroke="#707070" stroke-width="1.8" stroke-dasharray="1.3 1.2" fill="none">
<path d="M41.3,9 H58.4 M41.3,13 H58.4 M41.3,18 H58.4 M41.3,23 H53.8"/>
</g>
<text x="54" y="28.8" textLength="5.6" lengthAdjust="spacingAndGlyphs" style="font-size:9.6px;font-weight:bold;fill:#505050">F</text>
<text x="79" y="23.6" textLength="10" lengthAdjust="spacingAndGlyphs" style="font-size:15.8px;font-weight:bold;fill:#646464">A</text>
<rect x="111.5" y="10" width="14" height="15.5" fill="none" stroke="#585858" stroke-width="1.3" stroke-dasharray="1.2 1.35"/>
<rect x="110" y="8.3" width="2.4" height="2" fill="#707070"/>
<text x="113.5" y="24" textLength="10" lengthAdjust="spacingAndGlyphs" style="font-size:14.8px;font-weight:bold;fill:#6a6a6a">T</text>
<g fill="#5c5c5c">
<polygon points="143.8,13.2 148,9.3 152.2,13.2 150.6,16 145.4,16"/>
<polygon points="152.6,22.8 157,26.3 161.4,22.8 159.6,20 154.4,20"/>
</g>
<path d="M146.2,19.2 L149.5,21.8 L155,15.2" fill="none" stroke="#5c5c5c" stroke-width="1.7"/>
<polygon points="166.7,16 174.5,16 170.6,20.4" fill="#000"/>
<rect class="crisp" x="182" y="0" width="1" height="33" fill="#8c8c8c"/><rect class="crisp" x="183" y="0" width="1" height="33" fill="#fafafa"/>
<g class="crisp" fill="#909090">
<rect x="186" y="4" width="3" height="1"/><rect x="186" y="6" width="3" height="1"/><rect x="186" y="8" width="3" height="1"/><rect x="186" y="10" width="3" height="1"/><rect x="186" y="12" width="3" height="1"/><rect x="186" y="14" width="3" height="1"/><rect x="186" y="16" width="3" height="1"/><rect x="186" y="18" width="3" height="1"/><rect x="186" y="20" width="3" height="1"/><rect x="186" y="22" width="3" height="1"/><rect x="186" y="24" width="3" height="1"/><rect x="186" y="26" width="3" height="1"/><rect x="186" y="28" width="3" height="1"/><rect x="186" y="30" width="3" height="1"/>
</g>
<g style="font-size:12.5px">
<text x="207.2" y="22" text-anchor="middle" style="fill:#565656">M1</text>
<text x="241" y="22" text-anchor="middle" style="fill:#565656">M5</text>
<text x="275.6" y="22" text-anchor="middle" style="fill:#565656">M15</text>
<text x="309.8" y="22" text-anchor="middle" style="fill:#565656">M30</text>
<text x="343.5" y="22" text-anchor="middle" style="fill:#565656">H1</text>
<rect class="crisp" x="362" y="2" width="32" height="30" fill="#f8f8f8"/><rect class="crisp" x="362" y="2" width="31" height="1" fill="#8e8e8e"/><rect class="crisp" x="362" y="2" width="1" height="29" fill="#8e8e8e"/><rect class="crisp" x="393" y="2" width="1" height="30" fill="#fff"/><rect class="crisp" x="362" y="31" width="32" height="1" fill="#fff"/>
<text x="377.1" y="22" text-anchor="middle" style="fill:#565656">H4</text>
<text x="412" y="22" text-anchor="middle" style="fill:#565656">D1</text>
<text x="446.7" y="22" text-anchor="middle" style="fill:#565656">W1</text>
<text x="479" y="22" text-anchor="middle" style="fill:#565656">MN</text>
</g>
<rect class="crisp" x="497" y="1" width="1" height="32" fill="#a0a0a0"/>
</g>
<text x="1073.2" y="399.5" class="cj" style="font-size:50.6px;fill:#ff2010;stroke:#ff2010;stroke-width:0.5px">多空转折点</text>
<text x="1326" y="397.6" class="cj" textLength="155" lengthAdjust="spacingAndGlyphs" style="font-size:55.8px;fill:#ff2010;stroke:#ff2010;stroke-width:0.3px">3867.5</text>
</svg>
</body></html>
